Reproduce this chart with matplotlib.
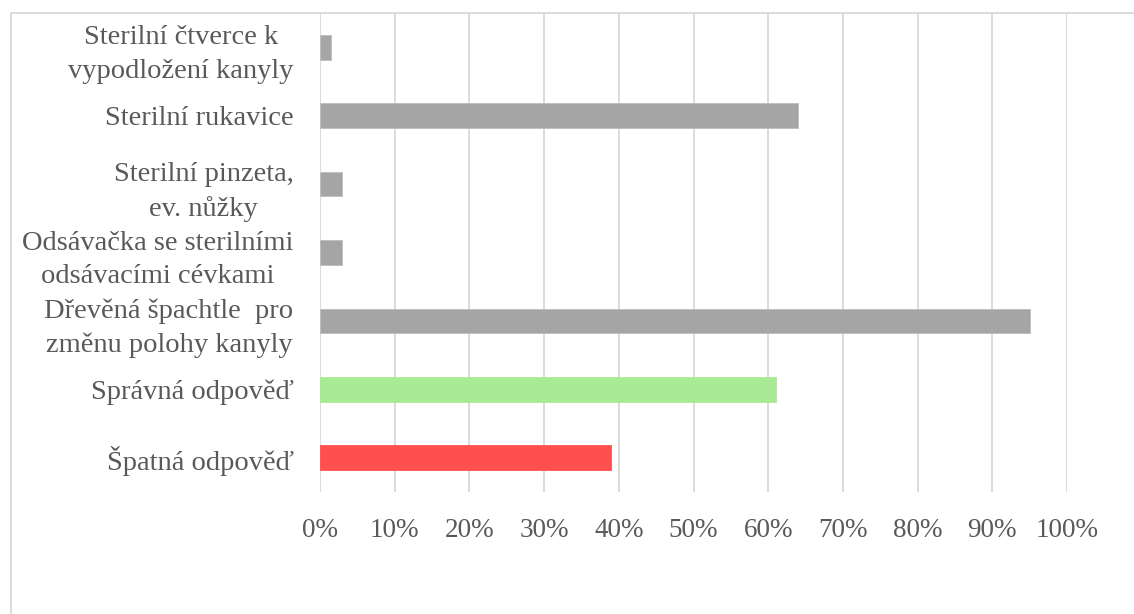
"""Horizontal bar chart: sterile aids for tracheostomy cannula care."""
import matplotlib
matplotlib.use("Agg")
import matplotlib.pyplot as plt
from matplotlib.patches import Rectangle
from matplotlib.ticker import PercentFormatter

# top to bottom, as in the picture
categories = [
    "Sterilní čtverce k\nvypodložení kanyly",
    "Sterilní rukavice",
    "Sterilní pinzeta,\nev. nůžky",
    "Odsávačka se sterilními\nodsávacími cévkami",
    "Dřevěná špachtle  pro\nzměnu polohy kanyly",
    "Správná odpověď",
    "Špatná odpověď",
]
values = [1.5, 64, 3, 3, 95, 61, 39]
colors = ["#A5A5A5", "#A5A5A5", "#A5A5A5", "#A5A5A5", "#A5A5A5",
          "#A9EB94", "#FF5050"]
x_ticks = list(range(0, 101, 10))

TEXT = "#595959"
GRID = "#D9D9D9"

plt.rcParams["font.family"] = ["Liberation Serif", "DejaVu Serif"]

fig = plt.figure(figsize=(11.34, 6.14), dpi=100)
ax = fig.add_axes([320 / 1134, 1 - 492 / 614, 747 / 1134, 479 / 614])

ypos = list(range(len(categories)))[::-1]
ax.barh(ypos, values, height=0.36, color=colors, zorder=3,
        edgecolor=[c if c != "#A5A5A5" else "#BDBDBD" for c in colors],
        linewidth=0.6)

ax.set_xlim(0, 100)
ax.set_ylim(-0.5, len(categories) - 0.5)
ax.set_xticks(x_ticks)
ax.xaxis.set_major_formatter(PercentFormatter(decimals=0))
ax.set_yticks(ypos)
ax.set_yticklabels(categories)
for lab in ax.get_yticklabels():
    lab.set_multialignment("center")
    lab.set_linespacing(1.45)

ax.tick_params(axis="y", length=0, pad=19, labelsize=20.5, labelcolor=TEXT)
ax.tick_params(axis="x", length=0, pad=19, labelsize=19.5, labelcolor=TEXT)
ax.grid(axis="x", color=GRID, linewidth=1.3, zorder=0)
for s in ax.spines.values():
    s.set_visible(False)

# outer chart frame (only left and top edges visible in the crop)
fig.patches.append(Rectangle((10.5 / 1134, -0.2), 1.5, 1.2 - 13 / 614,
                             transform=fig.transFigure, fill=False,
                             edgecolor=GRID, linewidth=1.3))

fig.savefig("out.png", dpi=100)
